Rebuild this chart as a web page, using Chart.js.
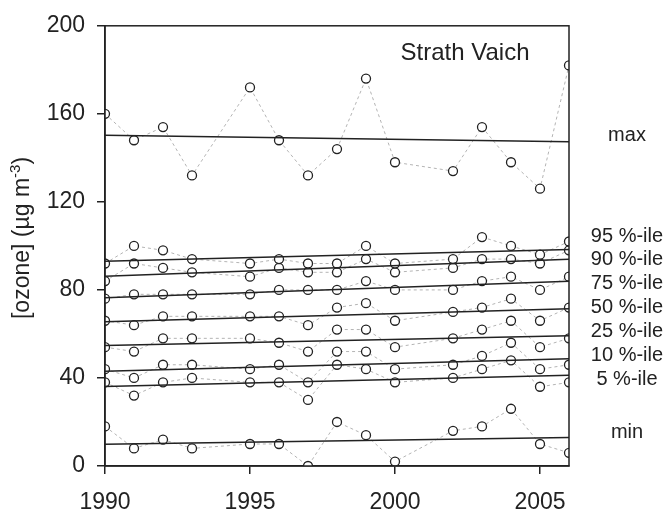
<!DOCTYPE html>
<html>
<head>
<meta charset="utf-8">
<script src="https://cdn.jsdelivr.net/npm/chart.js@4/dist/chart.umd.min.js"></script>
<style>
  body { margin: 0; background: #fff; }
  canvas { display: block; }
</style>
</head>
<body>
<canvas id="c" width="665" height="515"></canvas>
<script>
const years = [1990, 1991, 1992, 1993, 1995, 1996, 1997, 1998, 1999, 2000, 2002, 2003, 2004, 2005, 2006];

const maxVals = [160, 148, 154, 132, 172, 148, 132, 144, 176, 138, 134, 154, 138, 126, 182];
const p95 = [92, 100, 98, 94, 92, 94, 92, 92, 100, 92, 94, 104, 100, 96, 102];
const p90 = [84, 92, 90, 88, 86, 90, 88, 88, 94, 88, 90, 94, 94, 92, 98];
const p75 = [76, 78, 78, 78, 78, 80, 80, 80, 84, 80, 80, 84, 86, 80, 86];
const p50 = [66, 64, 68, 68, 68, 68, 64, 72, 74, 66, 70, 72, 76, 66, 72];
const p25 = [54, 52, 58, 58, 58, 56, 52, 62, 62, 54, 58, 62, 66, 54, 58];
const p10 = [44, 40, 46, 46, 44, 46, 38, 52, 52, 44, 46, 50, 56, 44, 46];
const p5 = [38, 32, 38, 40, 38, 38, 30, 46, 44, 38, 40, 44, 48, 36, 38];
const minVals = [18, 8, 12, 8, 10, 10, 0, 20, 14, 2, 16, 18, 26, 10, 6];

// trend lines: value at 1990 and at 2006
const trendYears = [1990, 2006];
const trendMax = [150.3, 147.3];
const trend95 = [93, 98.4];
const trend90 = [86.2, 93.9];
const trend75 = [76.4, 83.9];
const trend50 = [65.5, 71.5];
const trend25 = [54.7, 59.2];
const trend10 = [43, 48.7];
const trend5 = [36.1, 41.2];
const trendMin = [9.9, 12.9];

const seriesNames = ['max', '95 %-ile', '90 %-ile', '75 %-ile', '50 %-ile', '25 %-ile', '10 %-ile', '5 %-ile', 'min'];
const seriesVals = [maxVals, p95, p90, p75, p50, p25, p10, p5, minVals];
const trendVals = [trendMax, trend95, trend90, trend75, trend50, trend25, trend10, trend5, trendMin];

const xTicks = [1990, 1995, 2000, 2005];
const yTicks = [0, 40, 80, 120, 160, 200];
const siteName = 'Strath Vaich';

// label y positions (pixels)
const labelY = [135, 236, 259, 283, 307, 331, 355, 379, 432];

const ink = '#222';
const font = '"Liberation Sans", Arial, sans-serif';

const datasets = [];
seriesVals.forEach((vals, i) => {
  datasets.push({
    label: seriesNames[i],
    data: vals.map((v, j) => ({ x: years[j], y: v })),
    borderColor: '#b4b4b4',
    borderWidth: 1,
    borderDash: [3, 3],
    pointRadius: 4.5,
    pointBorderWidth: 1.3,
    pointBorderColor: ink,
    pointBackgroundColor: '#fff',
    order: 2
  });
});
trendVals.forEach((vals, i) => {
  datasets.push({
    label: seriesNames[i] + ' trend',
    data: vals.map((v, j) => ({ x: trendYears[j], y: v })),
    borderColor: ink,
    borderWidth: 1.5,
    pointRadius: 0,
    order: 1
  });
});

const decor = {
  id: 'decor',
  afterDatasetsDraw(chart) {
    const { ctx, chartArea: a } = chart;
    ctx.save();
    ctx.strokeStyle = ink;
    ctx.lineWidth = 1.5;
    ctx.strokeRect(a.left, a.top, a.right - a.left, a.bottom - a.top);

    ctx.fillStyle = ink;
    ctx.textBaseline = 'middle';
    ctx.textAlign = 'center';
    ctx.font = '24px ' + font;
    ctx.fillText(siteName, 465, 53);

    ctx.font = '20px ' + font;
    seriesNames.forEach((n, i) => ctx.fillText(n, 627, labelY[i]));

    // y title with superscript
    ctx.translate(23, 238);
    ctx.rotate(-Math.PI / 2);
    const main = '[ozone] (\u00b5g m';
    const sup = '-3';
    const tail = ')';
    ctx.font = '23px ' + font;
    const wMain = ctx.measureText(main).width;
    const wTail = ctx.measureText(tail).width;
    ctx.font = '15px ' + font;
    const wSup = ctx.measureText(sup).width;
    let x = -(wMain + wSup + wTail) / 2;
    ctx.textAlign = 'left';
    ctx.font = '23px ' + font;
    ctx.fillText(main, x, 0);
    x += wMain;
    ctx.font = '15px ' + font;
    ctx.fillText(sup, x, -7);
    x += wSup;
    ctx.font = '23px ' + font;
    ctx.fillText(tail, x, 0);
    ctx.restore();
  }
};

new Chart(document.getElementById('c'), {
  type: 'line',
  data: { datasets },
  options: {
    responsive: false,
    animation: false,
    devicePixelRatio: 1,
    layout: { padding: { top: 21, right: 96, bottom: 0, left: 0 } },
    plugins: { legend: { display: false }, tooltip: { enabled: false } },
    scales: {
      x: {
        type: 'linear',
        min: 1990,
        max: 2006,
        afterBuildTicks: s => { s.ticks = xTicks.map(v => ({ value: v })); },
        afterFit: s => { s.height = 49; },
        ticks: {
          callback: v => String(v),
          font: { family: font, size: 23 },
          color: ink,
          padding: 15,
          maxRotation: 0
        },
        grid: { drawOnChartArea: false, drawTicks: true, tickLength: 8, color: ink, lineWidth: 1.5 },
        border: { display: true, color: ink, width: 1.5 }
      },
      y: {
        min: 0,
        max: 200,
        afterBuildTicks: s => { s.ticks = yTicks.map(v => ({ value: v })); },
        afterFit: s => { s.width = 105; },
        ticks: {
          font: { family: font, size: 23 },
          color: ink,
          padding: 12
        },
        grid: { drawOnChartArea: false, drawTicks: true, tickLength: 8, color: ink, lineWidth: 1.5 },
        border: { display: true, color: ink, width: 1.5 }
      }
    }
  },
  plugins: [decor]
});
</script>
</body>
</html>
